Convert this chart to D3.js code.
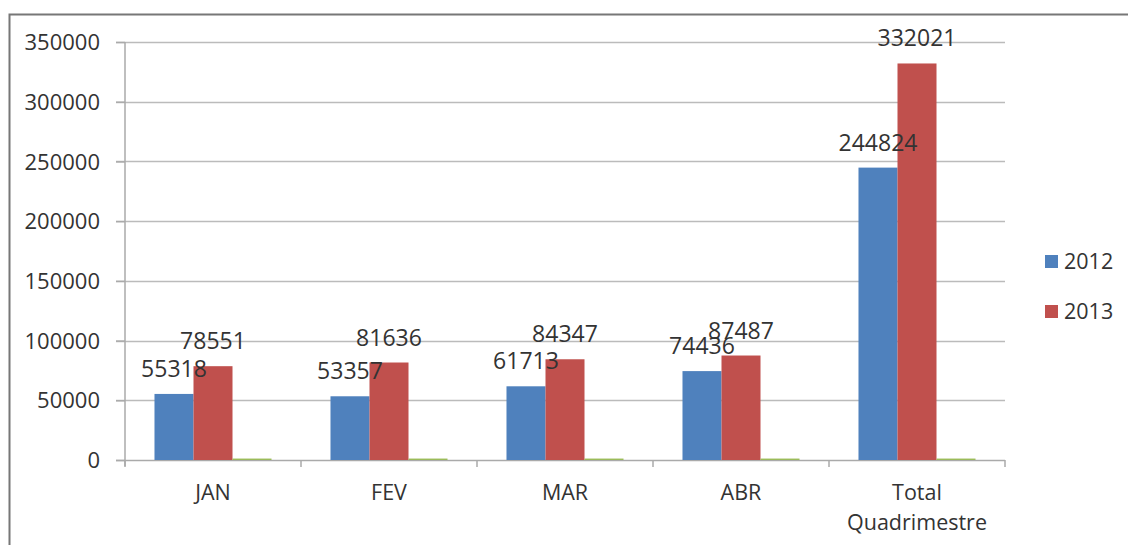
<!DOCTYPE html>
<html lang="pt">
<head>
<meta charset="UTF-8">
<title>2012 x 2013</title>
<script src="https://cdn.jsdelivr.net/npm/d3@7/dist/d3.min.js"></script>
<style>
  body { margin: 0; background: #fff; }
  text { font-family: "Open Sans", sans-serif; fill: #333; }
</style>
</head>
<body>
<div id="chart"></div>
<script>
const categories = ["JAN", "FEV", "MAR", "ABR", "Total Quadrimestre"];
const series = ["2012", "2013", "extra"];
const values2012 = [55318, 53357, 61713, 74436, 244824];
const values2013 = [78551, 81636, 84347, 87487, 332021];
const valuesExtra = [1200, 1200, 1200, 1200, 1200]; // serie quase nula (verde)
const yTicks = [0, 50000, 100000, 150000, 200000, 250000, 300000, 350000];
const legendItems = ["2012", "2013"];
const colors = { "2012": "#4F81BD", "2013": "#C0504D", "extra": "#9BBB59" };

const width = 1128, height = 545;
const plot = { left: 125, right: 1005, top: 42, bottom: 460 };

const svg = d3.select("#chart").append("svg")
    .attr("width", width)
    .attr("height", height);

// moldura do gráfico
svg.append("rect")
    .attr("x", 9.5).attr("y", 14.5)
    .attr("width", width + 20).attr("height", height + 20)
    .attr("fill", "none")
    .attr("stroke", "#777")
    .attr("stroke-width", 2);

const x = d3.scaleBand().domain(categories).range([plot.left, plot.right]);
const x1 = d3.scaleBand().domain(series).range([0, x.bandwidth()])
    .paddingInner(0).paddingOuter(0.756);
const y = d3.scaleLinear().domain([0, 350000]).range([plot.bottom, plot.top]);

// linhas de grade
svg.append("g").selectAll("line").data(yTicks.slice(1)).join("line")
    .attr("x1", plot.left - 9).attr("x2", plot.right)
    .attr("y1", d => Math.round(y(d)) + 0.5).attr("y2", d => Math.round(y(d)) + 0.5)
    .attr("stroke", "#bbb").attr("stroke-width", 1.5);

// eixo Y
const yAxis = svg.append("g")
    .attr("transform", `translate(${plot.left},0)`)
    .call(d3.axisLeft(y).tickValues(yTicks).tickSize(9).tickPadding(16).tickFormat(d3.format("d")));
yAxis.select(".domain").attr("stroke", "#aaa").attr("stroke-width", 1.5).attr("d", `M0,${plot.top}V${plot.bottom + 6}`);
yAxis.selectAll(".tick line").attr("stroke", "#aaa").attr("stroke-width", 1.5);
yAxis.selectAll(".tick text").style("font-size", "22px").attr("fill", "#333").attr("dy", "0.35em");

// eixo X
const xAxis = svg.append("g")
    .attr("transform", `translate(0,${plot.bottom})`);
xAxis.append("line")
    .attr("x1", plot.left - 9).attr("x2", plot.right)
    .attr("y1", 0.5).attr("y2", 0.5)
    .attr("stroke", "#aaa").attr("stroke-width", 1.5);
const edges = categories.map(c => x(c)).concat([plot.right]);
xAxis.selectAll(".xt").data(edges).join("line")
    .attr("class", "xt")
    .attr("x1", d => d).attr("x2", d => d)
    .attr("y1", 0).attr("y2", 7)
    .attr("stroke", "#aaa").attr("stroke-width", 1.5);
xAxis.selectAll(".xl").data(categories).join("text")
    .attr("class", "xl")
    .attr("text-anchor", "middle")
    .style("font-size", "21.5px")
    .attr("x", d => x(d) + x.bandwidth() / 2)
    .attr("y", 40)
    .each(function (d) {
        const words = d.split(" ");
        const t = d3.select(this);
        words.forEach((w, i) => {
            t.append("tspan")
                .attr("x", x(d) + x.bandwidth() / 2)
                .attr("dy", i === 0 ? 0 : 30)
                .text(w);
        });
    });

// barras
const table = categories.map((c, i) => ({
    cat: c,
    vals: [
        { s: "2012", v: values2012[i] },
        { s: "2013", v: values2013[i] },
        { s: "extra", v: valuesExtra[i] }
    ]
}));

const groups = svg.append("g").selectAll("g").data(table).join("g")
    .attr("transform", d => `translate(${x(d.cat)},0)`);

groups.selectAll("rect").data(d => d.vals).join("rect")
    .attr("x", d => x1(d.s))
    .attr("width", x1.bandwidth())
    .attr("y", d => y(d.v))
    .attr("height", d => y(0) - y(d.v))
    .attr("fill", d => colors[d.s]);

// rótulos de dados
groups.selectAll("text").data(d => d.vals.filter(v => v.s !== "extra")).join("text")
    .attr("text-anchor", "middle")
    .style("font-size", "23px")
    .attr("fill", "#222")
    .attr("x", d => x1(d.s) + x1.bandwidth() / 2)
    .attr("y", d => y(d.v) - 17)
    .text(d => d.v);

// legenda
const legend = svg.append("g").attr("transform", "translate(1045,255)");
const li = legend.selectAll("g").data(legendItems).join("g")
    .attr("transform", (d, i) => `translate(0,${i * 50})`);
li.append("rect")
    .attr("width", 13).attr("height", 13)
    .attr("fill", d => colors[d]);
li.append("text")
    .attr("x", 19).attr("y", 14)
    .style("font-size", "21.5px")
    .text(d => d);
</script>
</body>
</html>
